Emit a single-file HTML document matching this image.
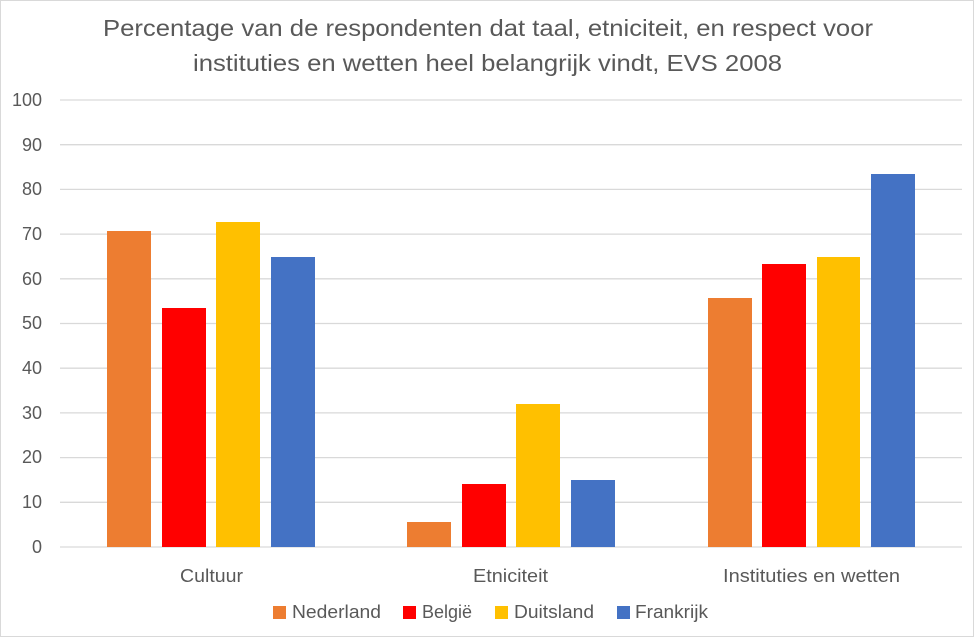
<!DOCTYPE html>
<html>
<head>
<meta charset="utf-8">
<style>
html,body{margin:0;padding:0;background:#fff;}
svg{display:block;}
text{font-family:"Liberation Sans",Arial,sans-serif;fill:#595959;}
</style>
</head>
<body>
<svg width="976" height="638" viewBox="0 0 976 638" xmlns="http://www.w3.org/2000/svg">
<rect x="0" y="0" width="976" height="638" fill="#fff"/>
<rect x="0.5" y="0.5" width="973" height="636" fill="#fff" stroke="#d9d9d9" stroke-width="1"/>
<!-- Title -->
<text x="103" y="36" font-size="23" textLength="770" lengthAdjust="spacingAndGlyphs">Percentage van de respondenten dat taal, etniciteit, en respect voor</text>
<text x="193" y="71" font-size="23" textLength="589" lengthAdjust="spacingAndGlyphs">instituties en wetten heel belangrijk vindt, EVS 2008</text>
<!-- Gridlines -->
<g stroke="#d9d9d9" stroke-width="1.3">
<line x1="60" y1="100" x2="962" y2="100"/>
<line x1="60" y1="144.7" x2="962" y2="144.7"/>
<line x1="60" y1="189.4" x2="962" y2="189.4"/>
<line x1="60" y1="234.1" x2="962" y2="234.1"/>
<line x1="60" y1="278.8" x2="962" y2="278.8"/>
<line x1="60" y1="323.5" x2="962" y2="323.5"/>
<line x1="60" y1="368.2" x2="962" y2="368.2"/>
<line x1="60" y1="412.9" x2="962" y2="412.9"/>
<line x1="60" y1="457.6" x2="962" y2="457.6"/>
<line x1="60" y1="502.3" x2="962" y2="502.3"/>
<line x1="60" y1="547" x2="962" y2="547"/>
</g>
<!-- Y labels -->
<g font-size="18" text-anchor="end">
<text x="42" y="106">100</text>
<text x="42" y="151">90</text>
<text x="42" y="195">80</text>
<text x="42" y="240">70</text>
<text x="42" y="285">60</text>
<text x="42" y="329">50</text>
<text x="42" y="374">40</text>
<text x="42" y="419">30</text>
<text x="42" y="463">20</text>
<text x="42" y="508">10</text>
<text x="42" y="553">0</text>
</g>
<!-- Bars -->
<g>
<rect x="107" y="231" width="44" height="316" fill="#ED7D31"/>
<rect x="162" y="308" width="44" height="239" fill="#FF0000"/>
<rect x="216" y="222" width="44" height="325" fill="#FFC000"/>
<rect x="271" y="257" width="44" height="290" fill="#4472C4"/>

<rect x="407" y="522" width="44" height="25" fill="#ED7D31"/>
<rect x="462" y="484" width="44" height="63" fill="#FF0000"/>
<rect x="516" y="404" width="44" height="143" fill="#FFC000"/>
<rect x="571" y="480" width="44" height="67" fill="#4472C4"/>

<rect x="708" y="298" width="44" height="249" fill="#ED7D31"/>
<rect x="762" y="264" width="44" height="283" fill="#FF0000"/>
<rect x="817" y="257" width="43" height="290" fill="#FFC000"/>
<rect x="871" y="174" width="44" height="373" fill="#4472C4"/>
</g>
<!-- Category labels -->
<g font-size="18">
<text x="180" y="582" textLength="63" lengthAdjust="spacingAndGlyphs">Cultuur</text>
<text x="473" y="582" textLength="75" lengthAdjust="spacingAndGlyphs">Etniciteit</text>
<text x="723" y="582" textLength="177" lengthAdjust="spacingAndGlyphs">Instituties en wetten</text>
</g>
<!-- Legend -->
<rect x="273" y="606" width="13" height="13" fill="#ED7D31"/>
<text x="292" y="618" font-size="18" textLength="89" lengthAdjust="spacingAndGlyphs">Nederland</text>
<rect x="403" y="606" width="13" height="13" fill="#FF0000"/>
<text x="422" y="618" font-size="18" textLength="50" lengthAdjust="spacingAndGlyphs">België</text>
<rect x="495" y="606" width="13" height="13" fill="#FFC000"/>
<text x="514" y="618" font-size="18" textLength="80" lengthAdjust="spacingAndGlyphs">Duitsland</text>
<rect x="617" y="606" width="13" height="13" fill="#4472C4"/>
<text x="635" y="618" font-size="18" textLength="73" lengthAdjust="spacingAndGlyphs">Frankrijk</text>
</svg>
</body>
</html>
